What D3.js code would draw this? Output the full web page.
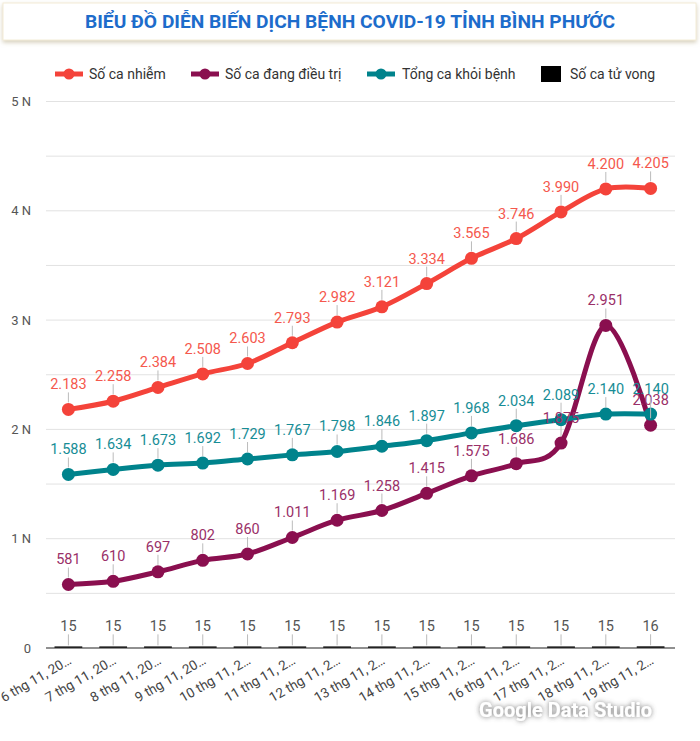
<!DOCTYPE html>
<html>
<head>
<meta charset="utf-8">
<script src="https://cdn.jsdelivr.net/npm/d3@7"></script>
<style>
  html, body { margin: 0; padding: 0; background: #fff; }
  svg { display: block; font-family: Roboto, "Noto Sans", sans-serif; }
</style>
</head>
<body>
<svg id="chart" width="700" height="741"></svg>
<script>
const dates = ["6 thg 11, 2021","7 thg 11, 2021","8 thg 11, 2021","9 thg 11, 2021","10 thg 11, 2021","11 thg 11, 2021","12 thg 11, 2021","13 thg 11, 2021","14 thg 11, 2021","15 thg 11, 2021","16 thg 11, 2021","17 thg 11, 2021","18 thg 11, 2021","19 thg 11, 2021"];
const dateLabels = ["6 thg 11, 20…","7 thg 11, 20…","8 thg 11, 20…","9 thg 11, 20…","10 thg 11, 2…","11 thg 11, 2…","12 thg 11, 2…","13 thg 11, 2…","14 thg 11, 2…","15 thg 11, 2…","16 thg 11, 2…","17 thg 11, 2…","18 thg 11, 2…","19 thg 11, 2…"];
const infected = [2183, 2258, 2384, 2508, 2603, 2793, 2982, 3121, 3334, 3565, 3746, 3990, 4200, 4205];
const treating = [581, 610, 697, 802, 860, 1011, 1169, 1258, 1415, 1575, 1686, 1875, 2951, 2038];
const recovered = [1588, 1634, 1673, 1692, 1729, 1767, 1798, 1846, 1897, 1968, 2034, 2089, 2140, 2140];
const deaths = [15, 15, 15, 15, 15, 15, 15, 15, 15, 15, 15, 15, 15, 16];
const yTicks = [0, 1000, 2000, 3000, 4000, 5000];
const yTickLabels = ["0", "1 N", "2 N", "3 N", "4 N", "5 N"];
const gridValues = [0, 500, 1000, 1500, 2000, 2500, 3000, 3500, 4000, 4500, 5000];
const title = "BIỂU ĐỒ DIỄN BIẾN DỊCH BỆNH COVID-19 TỈNH BÌNH PHƯỚC";

const seriesDefs = [
  { name: "Số ca nhiễm", values: infected, color: "#f4433a", label: "#f5584d" },
  { name: "Số ca đang điều trị", values: treating, color: "#8a0f4f", label: "#9a3068" },
  { name: "Tổng ca khỏi bệnh", values: recovered, color: "#00838c", label: "#178d96" }
];

const svg = d3.select("#chart");

// Title box
const defs = svg.append("defs");
const f = defs.append("filter").attr("id", "shadow").attr("x", "-5%").attr("y", "-30%").attr("width", "110%").attr("height", "180%");
f.append("feDropShadow").attr("dx", 0).attr("dy", 2).attr("stdDeviation", 2).attr("flood-color", "#b8ad8a").attr("flood-opacity", 0.6);
const f2 = defs.append("filter").attr("id", "wm").attr("x", "-10%").attr("y", "-50%").attr("width", "120%").attr("height", "200%");
f2.append("feDropShadow").attr("dx", 0).attr("dy", 0).attr("stdDeviation", 2.5).attr("flood-color", "#555").attr("flood-opacity", 0.85);

svg.append("rect").attr("x", 3).attr("y", 3).attr("width", 693).attr("height", 37)
  .attr("fill", "#fff").attr("stroke", "#f3ecd6").attr("stroke-width", 1).attr("filter", "url(#shadow)");
svg.append("text").attr("x", 350).attr("y", 28).attr("text-anchor", "middle")
  .attr("font-size", 17.5).attr("font-weight", "bold").attr("fill", "#1d6ccb")
  .attr("textLength", 530).attr("lengthAdjust", "spacingAndGlyphs")
  .text(title);

// Scales
const x = d3.scaleBand().domain(dates).range([46, 673]).padding(0);
const cx = d => x(d) + x.bandwidth() / 2;
const y = d3.scaleLinear().domain([0, 5000]).range([648, 101.5]);

// Grid
svg.append("g").selectAll("line").data(gridValues.filter(v => v > 0)).join("line")
  .attr("x1", 46).attr("x2", 675).attr("y1", d => y(d)).attr("y2", d => y(d))
  .attr("stroke", "#e2e2e2").attr("stroke-width", 1);

// Y axis labels
const yAxis = d3.axisLeft(y).tickValues(yTicks).tickSize(0).tickPadding(0)
  .tickFormat((d, i) => yTickLabels[i]);
const yg = svg.append("g").attr("transform", "translate(31,0)").call(yAxis);
yg.select(".domain").remove();
yg.selectAll("text").attr("font-size", 13).attr("fill", "#555").attr("font-family", "Roboto, sans-serif");

// Death bars
const barW = x.bandwidth() * 0.62;
svg.append("g").selectAll("rect").data(deaths).join("rect")
  .attr("x", (d, i) => cx(dates[i]) - barW / 2).attr("width", barW)
  .attr("y", d => y(d)).attr("height", d => y(0) - y(d))
  .attr("fill", "#222");
svg.append("g").selectAll("line").data(deaths).join("line")
  .attr("x1", (d, i) => cx(dates[i])).attr("x2", (d, i) => cx(dates[i]))
  .attr("y1", d => y(d) - 1).attr("y2", d => y(d) - 12)
  .attr("stroke", "#bbb").attr("stroke-width", 1);
svg.append("g").selectAll("text").data(deaths).join("text")
  .attr("x", (d, i) => cx(dates[i])).attr("y", d => y(d) - 15)
  .attr("text-anchor", "middle").attr("font-size", 14.5).attr("fill", "#555")
  .text(d => d);

// Baseline
svg.append("line").attr("x1", 46).attr("x2", 675).attr("y1", y(0)).attr("y2", y(0))
  .attr("stroke", "#222").attr("stroke-width", 1.2);

// X axis labels
const xAxis = d3.axisBottom(x).tickSize(0).tickPadding(0).tickFormat((d, i) => dateLabels[i]);
const xg = svg.append("g").attr("transform", `translate(0,${y(0)})`).call(xAxis);
xg.select(".domain").remove();
xg.selectAll("text")
  .attr("font-size", 13.5).attr("fill", "#444").attr("font-family", "Roboto, sans-serif")
  .attr("text-anchor", "end").attr("dy", 0)
  .attr("transform", "translate(4,15) rotate(-30)");

// Lines
const fmt = v => v >= 1000 ? d3.format(",")(v).replace(/,/g, ".") : String(v);
const lineGen = d3.line().x((d, i) => cx(dates[i])).y(d => y(d)).curve(d3.curveCardinal.tension(0));

seriesDefs.forEach(s => {
  svg.append("path").datum(s.values).attr("d", lineGen)
    .attr("fill", "none").attr("stroke", s.color).attr("stroke-width", 5)
    .attr("stroke-linejoin", "round").attr("stroke-linecap", "round");
  svg.append("g").selectAll("circle").data(s.values).join("circle")
    .attr("cx", (d, i) => cx(dates[i])).attr("cy", d => y(d)).attr("r", 6.5)
    .attr("fill", s.color);
});

seriesDefs.forEach(s => {
  svg.append("g").selectAll("line").data(s.values).join("line")
    .attr("x1", (d, i) => cx(dates[i])).attr("x2", (d, i) => cx(dates[i]))
    .attr("y1", d => y(d) - 7).attr("y2", d => y(d) - 17)
    .attr("stroke", "#bbb").attr("stroke-width", 1);
  svg.append("g").selectAll("text").data(s.values).join("text")
    .attr("x", (d, i) => cx(dates[i])).attr("y", d => y(d) - 20)
    .attr("text-anchor", "middle").attr("font-size", 14.5).attr("fill", s.label)
    .text(d => fmt(d));
});

// Legend
const legend = svg.append("g").attr("font-size", 14).attr("fill", "#333");
const legendItems = [
  { name: seriesDefs[0].name, color: seriesDefs[0].color, x: 55, tx: 89, type: "line" },
  { name: seriesDefs[1].name, color: seriesDefs[1].color, x: 191, tx: 225, type: "line" },
  { name: seriesDefs[2].name, color: seriesDefs[2].color, x: 367, tx: 402, type: "line" },
  { name: "Số ca tử vong", color: "#000", x: 541, tx: 570, type: "rect" }
];
legendItems.forEach(it => {
  if (it.type === "line") {
    legend.append("line").attr("x1", it.x).attr("x2", it.x + 28).attr("y1", 74).attr("y2", 74)
      .attr("stroke", it.color).attr("stroke-width", 5);
    legend.append("circle").attr("cx", it.x + 14).attr("cy", 74).attr("r", 5.5).attr("fill", it.color);
  } else {
    legend.append("rect").attr("x", it.x).attr("y", 66).attr("width", 20).attr("height", 16).attr("fill", it.color);
  }
  legend.append("text").attr("x", it.tx).attr("y", 79).text(it.name);
});

// Watermark
svg.append("text").attr("x", 652).attr("y", 717).attr("text-anchor", "end")
  .attr("font-size", 20).attr("font-weight", "bold").attr("fill", "#fff")
  .attr("filter", "url(#wm)").text("Google Data Studio");
</script>
</body>
</html>
